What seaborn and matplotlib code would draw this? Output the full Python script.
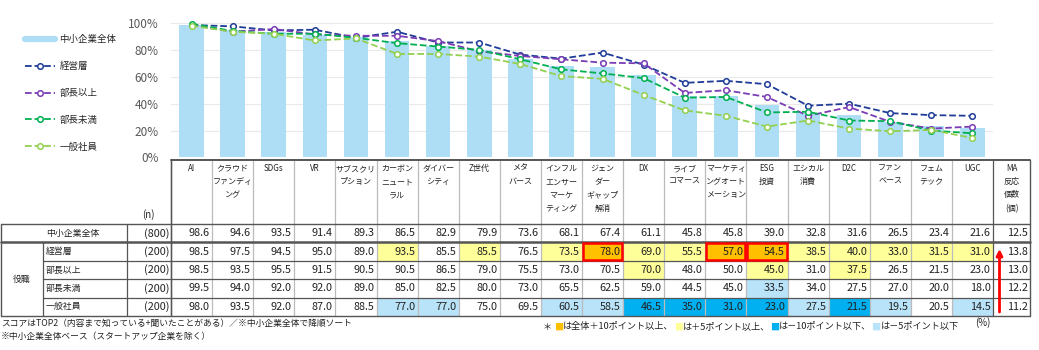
import numpy as np
import pandas as pd
import matplotlib
matplotlib.use("Agg")
import matplotlib.pyplot as plt
import seaborn as sns
from matplotlib.lines import Line2D
from matplotlib.patches import Rectangle

# ---------------- data ----------------
categories = ["AI", "クラウド\nファンディ\nング", "SDGs", "VR", "サブスクリ\nプション",
              "カーボン\nニュート\nラル", "ダイバー\nシティ", "Z世代", "メタ\nバース",
              "インフル\nエンサー\nマーケ\nティング", "ジェン\nダー\nギャップ\n解消", "DX",
              "ライブ\nコマース", "マーケティ\nングオート\nメーション", "ESG\n投資",
              "エシカル\n消費", "D2C", "ファン\nベース", "フェム\nテック", "UGC"]
ma_header = "MA\n反応\n個数\n(個)"
groups = ["中小企業全体", "経営層", "部長以上", "部長未満", "一般社員"]
n_labels = ["(800)", "(200)", "(200)", "(200)", "(200)"]

overall = [98.6, 94.6, 93.5, 91.4, 89.3, 86.5, 82.9, 79.9, 73.6, 68.1,
           67.4, 61.1, 45.8, 45.8, 39.0, 32.8, 31.6, 26.5, 23.4, 21.6]
keieiso = [98.5, 97.5, 94.5, 95.0, 89.0, 93.5, 85.5, 85.5, 76.5, 73.5,
           78.0, 69.0, 55.5, 57.0, 54.5, 38.5, 40.0, 33.0, 31.5, 31.0]
buchou_ijou = [98.5, 93.5, 95.5, 91.5, 90.5, 90.5, 86.5, 79.0, 75.5, 73.0,
               70.5, 70.0, 48.0, 50.0, 45.0, 31.0, 37.5, 26.5, 21.5, 23.0]
buchou_miman = [99.5, 94.0, 92.0, 92.0, 89.0, 85.0, 82.5, 80.0, 73.0, 65.5,
                62.5, 59.0, 44.5, 45.0, 33.5, 34.0, 27.5, 27.0, 20.0, 18.0]
ippan = [98.0, 93.5, 92.0, 87.0, 88.5, 77.0, 77.0, 75.0, 69.5, 60.5,
         58.5, 46.5, 35.0, 31.0, 23.0, 27.5, 21.5, 19.5, 20.5, 14.5]
ma_counts = [12.5, 13.8, 13.0, 12.2, 11.2]

yticks = [0, 20, 40, 60, 80, 100]
footnote1 = "スコアはTOP2（内容まで知っている+聞いたことがある）／※中小企業全体で降順ソート"
footnote2 = "※中小企業全体ベース（スタートアップ企業を除く）"

# ---------------- style ----------------
sns.set_theme(style="white")
plt.rcParams["font.family"] = ["Noto Sans CJK JP", "DejaVu Sans"]

bar_color = "#AEDDF6"
line_colors = ["#1F3C99", "#7A3CB4", "#00B050", "#92D050"]
c_orange, c_yellow, c_dblue, c_lblue = "#FFC000", "#FFFF99", "#00B0F0", "#B9E3F8"
dark = "#555555"
light = "#BBBBBB"
txt_c = "#222222"

W, H = 1039, 350
fig = plt.figure(figsize=(W / 100, H / 100), dpi=100)
fig.patch.set_facecolor("white")

# table geometry (pixels)
x0 = 171.0
cw = 41.1
xe = [x0 + i * cw for i in range(len(categories) + 1)]
x_ma_r = 1030.0
hdr_top, hdr_bot = 160.0, 224.0
rh = 18.4
ye = [hdr_bot + i * rh for i in range(6)]

# ---------------- chart ----------------
ax = fig.add_axes([x0 / W, 1 - 157.5 / H, (xe[-1] - x0) / W, 134.5 / H])
df_bar = pd.DataFrame({"cat": categories, "val": overall})
sns.barplot(data=df_bar, x="cat", y="val", color=bar_color, saturation=1,
            width=0.6, linewidth=0, ax=ax)

series = [keieiso, buchou_ijou, buchou_miman, ippan]
for name, vals, col in zip(groups[1:], series, line_colors):
    d = pd.DataFrame({"cat": categories, "val": vals})
    sns.pointplot(data=d, x="cat", y="val", color=col, linestyles="--",
                  markers="o", markersize=4, linewidth=1.3, markeredgewidth=1.1,
                  markerfacecolor="white", errorbar=None, ax=ax, clip_on=False)

ax.set_xlim(-0.5, len(categories) - 0.5)
ax.set_ylim(0, 100)
ax.set_yticks(yticks)
ax.set_yticklabels([f"{v}%" for v in yticks])
ax.set_xlabel("")
ax.set_ylabel("")
ax.tick_params(axis="x", labelbottom=False, length=0)
ax.tick_params(axis="y", length=0, labelsize=8.5, labelcolor="#595959", pad=9)
ax.yaxis.grid(True, color="#E9E9E9", lw=0.8)
ax.set_axisbelow(True)
for s in ax.spines.values():
    s.set_visible(False)
ax.patch.set_alpha(0)

handles = [Line2D([0], [0], color=bar_color, lw=4.5)]
for col in line_colors:
    handles.append(Line2D([0], [0], color=col, ls="--", lw=1.3, marker="o",
                          markersize=4, markerfacecolor="white", markeredgewidth=1.1))
fig.legend(handles, groups, loc="upper left", bbox_to_anchor=(25 / W, 1 - 35 / H),
           frameon=False, fontsize=6.8, handlelength=3.2, handletextpad=0.45,
           labelspacing=1.87, borderpad=0, borderaxespad=0)

# ---------------- table ----------------
tab = fig.add_axes([0, 0, 1, 1])
tab.set_xlim(0, W)
tab.set_ylim(H, 0)
tab.axis("off")
tab.patch.set_alpha(0)

rows = [overall, keieiso, buchou_ijou, buchou_miman, ippan]

# colored cells
red_cells = []
for r in range(1, 5):
    for c, v in enumerate(rows[r]):
        diff = v - overall[c]
        fc = None
        if diff >= 10:
            fc = c_orange
            red_cells.append((r, c))
        elif diff >= 5:
            fc = c_yellow
        elif diff <= -10:
            fc = c_dblue
        elif diff <= -5:
            fc = c_lblue
        if fc:
            tab.add_patch(Rectangle((xe[c], ye[r]), cw, rh, facecolor=fc, edgecolor="none", zorder=1))

# header lines
tab.plot([x0, x_ma_r], [hdr_top, hdr_top], color=dark, lw=1.4, zorder=3)
for i, x in enumerate(xe):
    col = dark if i in (0, len(xe) - 1) else light
    tab.plot([x, x], [hdr_top, ye[-1]], color=col, lw=0.9, zorder=2)
tab.plot([x_ma_r, x_ma_r], [hdr_top, ye[-1]], color=dark, lw=1.0, zorder=3)
# row lines
tab.plot([0.5, x_ma_r], [ye[0], ye[0]], color=dark, lw=1.0, zorder=3)
tab.plot([0.5, x_ma_r], [ye[1], ye[1]], color=dark, lw=1.8, zorder=3)
for y in ye[2:5]:
    tab.plot([43, x_ma_r], [y, y], color=dark, lw=0.9, zorder=3)
tab.plot([0.5, x_ma_r], [ye[5], ye[5]], color=dark, lw=1.0, zorder=3)
tab.plot([0.8, 0.8], [ye[0], ye[5]], color=dark, lw=1.0, zorder=3)
tab.plot([43, 43], [ye[1], ye[5]], color=dark, lw=0.9, zorder=3)
tab.plot([127, 127], [ye[0], ye[5]], color=dark, lw=0.9, zorder=3)
tab.plot([x0, x0], [hdr_top, ye[5]], color=dark, lw=1.0, zorder=3)

# red outlines
for r, c in red_cells:
    tab.add_patch(Rectangle((xe[c] + 1, ye[r] + 1), cw - 2, rh - 2, facecolor="none",
                            edgecolor="#FF0000", lw=1.8, zorder=4))

# header text
for c, lab in enumerate(categories):
    tab.text((xe[c] + xe[c + 1]) / 2, 164, lab, ha="center", va="top",
             fontsize=5.8, linespacing=1.6, color=txt_c, zorder=5)
tab.text((xe[-1] + x_ma_r) / 2, 164, ma_header, ha="center", va="top",
         fontsize=5.8, linespacing=1.6, color=txt_c, zorder=5)
tab.text(148, 215, "(n)", ha="center", va="center", fontsize=7, color=txt_c)

# body text
for r in range(5):
    yc = ye[r] + rh / 2
    tab.text(46, yc, groups[r], ha="left", va="center", fontsize=6.4, color=txt_c, zorder=5)
    tab.text(169.5, yc, n_labels[r], ha="right", va="center", fontsize=7.8, color=txt_c, zorder=5)
    for c, v in enumerate(rows[r]):
        tab.text(xe[c + 1] - 2.5, yc, f"{v:.1f}", ha="right", va="center",
                 fontsize=7.8, color=txt_c, zorder=5)
    tab.text(x_ma_r - 2, yc, f"{ma_counts[r]:.1f}", ha="right", va="center",
             fontsize=7.8, color=txt_c, zorder=5)
tab.text(21.5, (ye[1] + ye[5]) / 2, "役職", ha="center", va="center", fontsize=6.4, color=txt_c)

# arrow in MA column
tab.annotate("", xy=(999.5, 249), xytext=(999.5, 312),
             arrowprops=dict(arrowstyle="-|>", color="#FF0000", lw=2, mutation_scale=9,
                             shrinkA=0, shrinkB=0), zorder=6)

# footnotes
tab.text(1, 323.5, footnote1, ha="left", va="center", fontsize=6.3, color=txt_c)
tab.text(1, 337, footnote2, ha="left", va="center", fontsize=6.3, color=txt_c)
tab.text(983, 323, "(%)", ha="center", va="center", fontsize=7, color=txt_c)

pieces = [("＊ ", txt_c), ("■", c_orange), ("は全体＋10ポイント以上、", txt_c),
          ("■", c_yellow), ("は＋5ポイント以上、", txt_c),
          ("■", c_dblue), ("は－10ポイント以下、", txt_c),
          ("■", c_lblue), ("は－5ポイント以下", txt_c)]
fig.canvas.draw()
renderer = fig.canvas.get_renderer()
xp = 543.0
for txt, col in pieces:
    t = tab.text(xp, 327, txt, ha="left", va="center", fontsize=6.6, color=col)
    bb = t.get_window_extent(renderer=renderer)
    xp += bb.width

fig.savefig("out.png", dpi=100, facecolor="white")
